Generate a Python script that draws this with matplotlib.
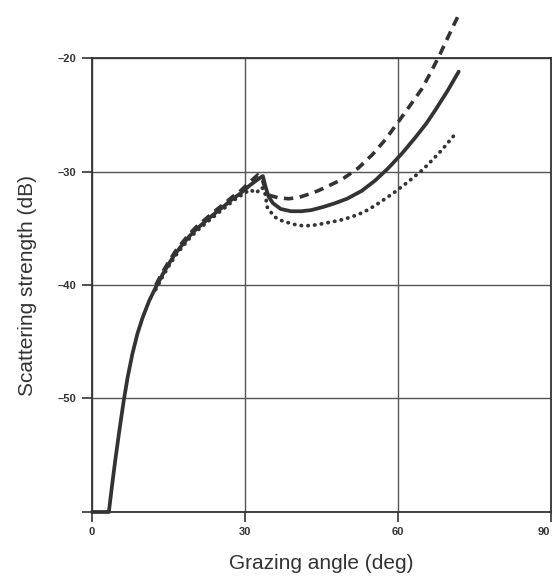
import matplotlib as mpl
mpl.use("Agg")
import matplotlib.pyplot as plt
from matplotlib.transforms import ScaledTranslation

plt.rcParams["font.family"] = ["Liberation Sans", "DejaVu Sans"]

# shared rising branch (deg, dB)
rise_x = [0.0, 3.3, 4.0, 4.6, 5.4, 6.25, 7.0, 7.9, 8.9, 9.9, 11.2, 12.5, 13.8, 15.1,
          16.4, 17.8, 19.1, 20.4, 21.7, 23.0, 24.6, 26.3, 27.6, 28.9]
rise_y = [-60.0, -60.0, -57.4, -55.3, -52.7, -50.1, -48.1, -46.1, -44.3, -42.9, -41.4,
          -40.2, -39.1, -38.1, -37.2, -36.4, -35.7, -35.1, -34.6, -34.1, -33.5, -32.9,
          -32.4, -32.0]

solid_x = [31.0, 32.5, 33.5, 34.0, 34.6, 35.5, 37.0, 39.0, 41.0, 43.0, 45.5, 47.6, 50.0,
           52.9, 55.5, 58.1, 60.8, 63.4, 65.5, 67.3, 69.7, 71.9]
solid_y = [-31.2, -30.7, -30.4, -31.3, -32.2, -32.8, -33.3, -33.5, -33.5, -33.4, -33.1,
           -32.8, -32.4, -31.7, -30.8, -29.7, -28.4, -27.0, -25.8, -24.6, -22.9, -21.2]

dashed_x = [31.0, 32.5, 33.4, 34.0, 34.8, 36.4, 38.5, 40.4, 42.5, 44.3, 46.7, 49.0, 52.2,
            55.0, 57.5, 60.1, 62.5, 64.7, 66.5, 68.3, 70.6, 72.0]
dashed_y = [-30.9, -30.3, -30.7, -31.6, -32.1, -32.3, -32.4, -32.3, -32.0, -31.7, -31.2,
            -30.7, -29.7, -28.5, -27.2, -25.6, -24.1, -22.7, -21.2, -19.6, -17.4, -16.1]

dotted_x = [31.0, 32.2, 33.2, 33.8, 34.4, 35.8, 37.0, 38.4, 40.0, 41.7, 44.0, 46.3, 48.6,
            50.9, 53.2, 55.5, 57.5, 59.4, 62.0, 64.7, 66.7, 68.6, 71.4]
dotted_y = [-31.6, -31.9, -31.4, -31.6, -33.2, -34.0, -34.3, -34.5, -34.7, -34.8, -34.7,
            -34.5, -34.3, -34.0, -33.6, -33.0, -32.4, -31.8, -30.9, -29.9, -29.0, -28.1,
            -26.6]

x_ticks = [0, 30, 60, 90]
y_ticks = [-60, -50, -40, -30, -20]
y_labels = ["", "\u201350", "\u201340", "\u201330", "\u201320"]

fig = plt.figure(figsize=(5.55, 5.82), dpi=100)
ax = fig.add_axes([0.1658, 0.1203, 0.827, 0.78])

ink = "#333333"
k = 11  # dashed and dotted branches split from the solid near 12.5 deg
ax.plot(rise_x + solid_x, rise_y + solid_y, color=ink, lw=2.7, clip_on=False,
        solid_capstyle="round", solid_joinstyle="round")
ax.plot(rise_x[k:] + dashed_x, [v + 0.2 for v in rise_y[k:]] + dashed_y, color=ink,
        lw=2.6, linestyle=(0, (2.6, 1.8)), clip_on=False)
ax.plot(rise_x[k:] + dotted_x, [v - 0.2 for v in rise_y[k:]] + dotted_y, color=ink,
        lw=2.7, linestyle=(0, (0.1, 1.7)), dash_capstyle="round", clip_on=False)

ax.set_xlim(0, 90)
ax.set_ylim(-60, -20)
ax.set_xticks(x_ticks)
ax.set_yticks(y_ticks)
ax.set_yticklabels(y_labels)
ax.grid(True, color="#555555", lw=1.0)
ax.set_axisbelow(True)
for s in ax.spines.values():
    s.set_color(ink)
    s.set_linewidth(1.3)
ax.tick_params(direction="out", length=7, width=1.2, color=ink, labelsize=8,
               labelcolor=ink, pad=4)
for lab in ax.get_xticklabels() + ax.get_yticklabels():
    lab.set_fontweight("bold")

# last x label sits at the figure edge; pull it inward a little
last = ax.get_xticklabels()[-1]
last.set_transform(last.get_transform() + ScaledTranslation(-0.07, 0, fig.dpi_scale_trans))

ax.set_xlabel("Grazing angle (deg)", fontsize=15, color=ink, labelpad=12)
ax.set_ylabel("Scattering strength (dB)", fontsize=15, color=ink, labelpad=15)

fig.savefig("out.png", dpi=100)
